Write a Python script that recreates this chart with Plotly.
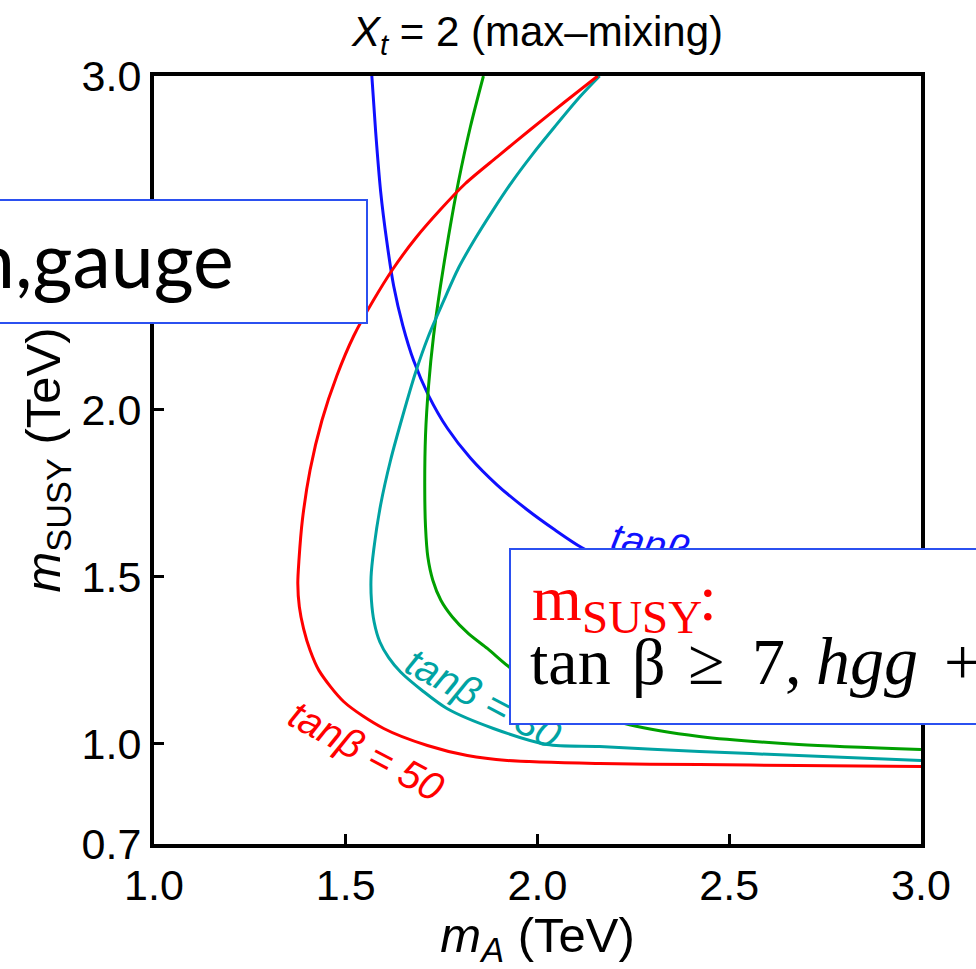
import plotly.graph_objects as go

W, H = 976, 969
ML, MR, MT, MB = 154, 55, 76, 125


def px(x):
    return (x - ML) / (W - ML - MR)


def py(y):
    return (H - MB - y) / (H - MT - MB)


# ---------------- data ----------------
blue_x = [1.568, 1.578, 1.591, 1.607, 1.625, 1.649, 1.677, 1.716, 1.765, 1.825,
          1.895, 1.973, 2.045, 2.115, 2.214, 2.422, 2.681, 3.0]
blue_y = [3.0, 2.833, 2.654, 2.505, 2.371, 2.252, 2.148, 2.043, 1.945, 1.856,
          1.775, 1.701, 1.641, 1.588, 1.534, 1.463, 1.403, 1.358]

green_x = [1.859, 1.825, 1.794, 1.768, 1.747, 1.729, 1.716, 1.708, 1.706, 1.708,
           1.714, 1.727, 1.748, 1.778, 1.820, 1.870, 1.923, 2.006, 2.110, 2.240,
           2.422, 2.681, 3.0]
green_y = [3.0, 2.848, 2.684, 2.520, 2.371, 2.222, 2.073, 1.924, 1.760, 1.650,
           1.560, 1.490, 1.430, 1.380, 1.330, 1.285, 1.233, 1.165, 1.105, 1.057,
           1.022, 0.998, 0.983]

red_x = [2.157, 2.071, 1.981, 1.895, 1.812, 1.747, 1.682, 1.623, 1.571, 1.521,
         1.477, 1.438, 1.407, 1.387, 1.378, 1.375, 1.379, 1.390, 1.407, 1.430,
         1.495, 1.599, 1.713, 1.817, 1.921, 2.162, 2.422, 2.681, 3.0]
red_y = [3.0, 2.922, 2.839, 2.758, 2.678, 2.600, 2.514, 2.422, 2.326, 2.222,
         2.103, 1.969, 1.820, 1.671, 1.550, 1.480, 1.410, 1.345, 1.280, 1.220,
         1.126, 1.046, 0.995, 0.965, 0.950, 0.941, 0.938, 0.935, 0.932]

cyan_x = [2.162, 2.110, 2.045, 1.988, 1.934, 1.885, 1.838, 1.794, 1.755, 1.716,
          1.682, 1.649, 1.617, 1.591, 1.573, 1.566, 1.567, 1.574, 1.589, 1.612,
          1.643, 1.700, 1.765, 1.885, 2.025, 2.162, 2.422, 2.681, 3.0]
cyan_y = [3.0, 2.937, 2.848, 2.767, 2.684, 2.600, 2.514, 2.425, 2.326, 2.222,
          2.112, 1.984, 1.850, 1.716, 1.582, 1.500, 1.430, 1.365, 1.305, 1.258,
          1.215, 1.159, 1.105, 1.046, 0.998, 0.992, 0.977, 0.965, 0.950]

x_ticks = [1.0, 1.5, 2.0, 2.5, 3.0]
x_tick_text = ["1.0", "1.5", "2.0", "2.5", "3.0"]
y_ticks = [0.7, 1.0, 1.5, 2.0, 2.5, 3.0]
y_tick_text = ["0.7", "1.0", "1.5", "2.0", "2.5", "3.0"]

RED = "#ff0000"
BLUE = "#1010ff"
GREEN = "#00a000"
CYAN = "#00a3a3"
BOX = "#2b50f0"

fig = go.Figure()
for xs, ys, col in [(blue_x, blue_y, BLUE), (green_x, green_y, GREEN),
                    (cyan_x, cyan_y, CYAN), (red_x, red_y, RED)]:
    fig.add_trace(go.Scatter(x=xs, y=ys, mode="lines",
                             line=dict(color=col, width=3, shape="spline", smoothing=0.8),
                             hoverinfo="skip", showlegend=False))

SANS = "Liberation Sans, Arial, sans-serif"
tick_font = dict(family=SANS, size=43, color="black")
axis_common = dict(showgrid=False, zeroline=False, showline=True, linecolor="black",
                   linewidth=4, mirror=True, ticks="inside", ticklen=10, tickwidth=3,
                   tickcolor="black", tickfont=tick_font)

fig.update_layout(
    width=W, height=H,
    margin=dict(l=ML, r=MR, t=MT, b=MB),
    paper_bgcolor="white", plot_bgcolor="white",
    title=dict(text="<i>X</i><sub><i>t</i></sub> = 2 (max\u2013mixing)",
               font=dict(family=SANS, size=42, color="black"),
               x=0.5, xref="paper", xanchor="center",
               y=1 - 31 / H, yref="container", yanchor="middle"),
    xaxis=dict(range=[1.0, 3.0], tickvals=x_ticks, ticktext=x_tick_text,
               title=dict(text="<i>m</i><sub><i>A</i></sub> (TeV)",
                          font=dict(family=SANS, size=49, color="black"),
                          standoff=10),
               **axis_common),
    yaxis=dict(range=[0.7, 3.0], tickvals=y_ticks, ticktext=y_tick_text,
               title=dict(text="<i>m</i><sub>SUSY</sub> (TeV)",
                          font=dict(family=SANS, size=49, color="black"),
                          standoff=6),
               **axis_common),
)

annotations = [
    # contour labels (drawn first so the boxes hide them)
    dict(text="<i>tan\u03b2 = 50</i>", x=1.555, y=0.978, xref="x", yref="y",
         xanchor="center", yanchor="middle", textangle=28, showarrow=False,
         font=dict(family=SANS, size=40, color=RED)),
    dict(text="<i>tan\u03b2 = 30</i>", x=1.858, y=1.136, xref="x", yref="y",
         xanchor="center", yanchor="middle", textangle=28, showarrow=False,
         font=dict(family=SANS, size=40, color=CYAN)),
    dict(text="<i>tan\u03b2 = 10</i>", x=2.409, y=1.573, xref="x", yref="y",
         xanchor="center", yanchor="middle", textangle=11, showarrow=False,
         font=dict(family=SANS, size=40, color=BLUE)),
    # box 1
    dict(text="\u00a0", x=px(-20), y=py(199), xref="paper", yref="paper",
         xanchor="left", yanchor="top", width=384, height=121, showarrow=False,
         bgcolor="white", bordercolor=BOX, borderwidth=2, borderpad=0),
    dict(text="n,gauge", x=px(236), y=py(258), xref="paper", yref="paper",
         xanchor="right", yanchor="middle", showarrow=False,
         font=dict(family="Lato, sans-serif", size=77, color="black")),
    # box 2
    dict(text="\u00a0", x=px(509), y=py(548), xref="paper", yref="paper",
         xanchor="left", yanchor="top", width=489, height=173, showarrow=False,
         bgcolor="white", bordercolor=BOX, borderwidth=2, borderpad=0),
]
serif = "Liberation Serif, Times New Roman, serif"
box2_texts = [
    ("m", 530, 598, 64, RED),
    ("SUSY", 580, 617, 47, RED),
    (":", 697, 598, 64, RED),
    ("tan", 528, 661, 66, "black"),
    ("\u03b2", 630, 661, 66, "black"),
    ("\u2265", 686, 661, 66, "black"),
    ("7,", 750, 661, 66, "black"),
    ("<i>hgg</i>", 814, 661, 68, "black"),
    ("+", 942, 661, 66, "black"),
]
for t, xx, yy, sz, col in box2_texts:
    annotations.append(dict(text=t, x=px(xx), y=py(yy), xref="paper", yref="paper",
                            xanchor="left", yanchor="middle", showarrow=False,
                            font=dict(family=serif, size=sz, color=col)))

fig.update_layout(annotations=annotations)
fig.write_html("out.html")
